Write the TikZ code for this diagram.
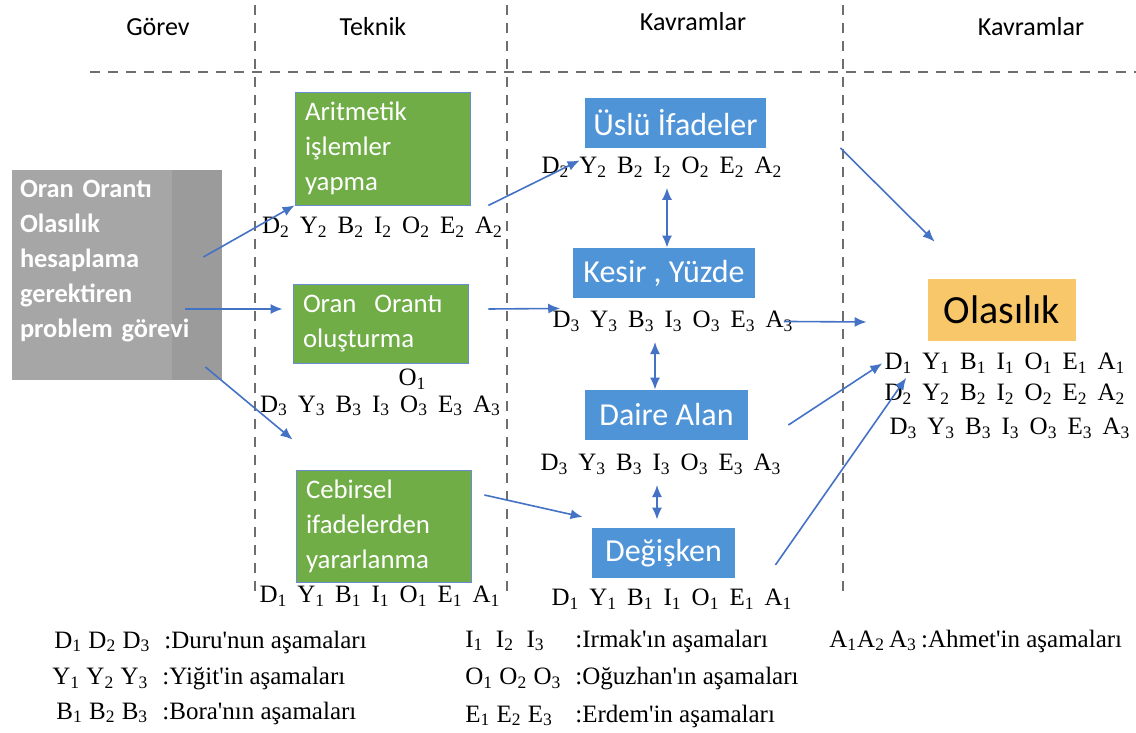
\documentclass[tikz,border=0pt]{standalone}
\usepackage{fontspec}
\setmainfont{Liberation Serif}
\newfontfamily\calibri{Carlito}
\usepackage{tikz}
\usetikzlibrary{arrows.meta, positioning, calc}
\definecolor{yesilTeknik}{HTML}{70AD47}
\definecolor{maviKavram}{HTML}{5094D8}
\definecolor{turuncuSonuc}{HTML}{F8C76A}
\definecolor{griGorev}{HTML}{A6A6A6}
\definecolor{griSerit}{HTML}{9B9B9B}
\definecolor{okMavi}{HTML}{4472C4}
\definecolor{cizgiGri}{HTML}{6E6E6E}
\newcommand{\asama}[1]{D\textsubscript{#1}\hspace{5pt}Y\textsubscript{#1}\hspace{5pt}B\textsubscript{#1}\hspace{5pt}I\textsubscript{#1}\hspace{5pt}O\textsubscript{#1}\hspace{5pt}E\textsubscript{#1}\hspace{5pt}A\textsubscript{#1}}
\newcommand{\lejant}[3]{\makebox[#1][l]{#2}#3}
\begin{document}
\begin{tikzpicture}[x=0.5pt, y=-0.5pt,
        baslik/.style={font=\calibri\fontsize{13}{15}\selectfont},
        gorevkutu/.style={fill=griGorev, text=white, align=left, text width=97pt, minimum width=105pt,
            minimum height=105pt, inner sep=0pt, font=\calibri\bfseries\fontsize{13.2}{17.5}\selectfont,
            path picture={\fill[griSerit] ($(path picture bounding box.north east)+(-50,0)$) rectangle (path picture bounding box.south east);}},
        teknik/.style={fill=yesilTeknik, draw=okMavi!80, line width=0.4pt, text=white, align=left,
            text width=77.5pt, inner xsep=5pt, inner ysep=0pt, font=\calibri\fontsize{13.4}{17.5}\selectfont},
        kavram/.style={fill=maviKavram, text=white, minimum height=25pt, inner sep=0pt,
            font=\calibri\fontsize{16}{18}\selectfont},
        sonuc/.style={fill=turuncuSonuc, minimum width=74pt, minimum height=31pt,
            font=\calibri\fontsize{20}{22}\selectfont},
        sira/.style={inner sep=1pt, font=\fontsize{12.5}{14}\selectfont},
        lejant/.style={anchor=west, inner sep=0pt, font=\fontsize{12.5}{14}\selectfont},
        ok/.style={-{Latex[length=6pt, width=5pt]}, okMavi, line width=0.8pt},
        cift/.style={{Latex[length=6pt, width=5pt]}-{Latex[length=6pt, width=5pt]}, okMavi, line width=0.8pt},
        ayrac/.style={cizgiGri, line width=0.7pt, dash pattern=on 5pt off 4pt}
    ]
        \path[use as bounding box, fill=white] (0,0) rectangle (1136,733);

        % basliklar ve ayraclar
        \node[baslik] (gorevbaslik) at (158,27) {Görev};
        \node[baslik] (teknikbaslik) at (373,27) {Teknik};
        \node[baslik] (kavrambaslik) at (693,22) {Kavramlar};
        \node[baslik] (kavrambaslik2) at (1031,27) {Kavramlar};
        \draw[ayrac] (90,72) -- (1136,72);
        \draw[ayrac] (255,5) -- (255,595);
        \draw[ayrac] (507,5) -- (507,595);
        \draw[ayrac] (843,5) -- (843,595);

        % kutular
        \node[gorevkutu] (gorev) at (117,275) {Oran Orantı\\Olasılık\\hesaplama\\gerektiren\\problem görevi\rule[-16pt]{0pt}{16pt}};
        \node[teknik, minimum height=56.5pt] (aritmetik) at (382.5,148.5) {Aritmetik\\işlemler\\yapma};
        \node[teknik, minimum height=39.5pt] (oran) at (380.5,323.5) {Oran\ \ Orantı\\oluşturma};
        \node[teknik, minimum height=56pt] (cebirsel) at (383.5,526) {Cebirsel\\ifadelerden\\yararlanma};
        \node[kavram, minimum width=90.5pt] (uslu) at (675.5,123) {Üslü İfadeler};
        \node[kavram, minimum width=91pt] (kesir) at (664,273) {Kesir , Yüzde};
        \node[kavram, minimum width=81.5pt] (daire) at (666.5,415) {Daire Alan};
        \node[kavram, minimum width=71.5pt] (degisken) at (663.5,553) {Değişken};
        \node[sonuc] (olasilik) at (1002,310) {Olasılık};

        % asama satirlari
        \node[sira, below=4.75pt of aritmetik] (aritmetiksira) {\asama{2}};
        \node[sira, below=1.75pt of oran, xshift=16pt] (oranO) {O\textsubscript{1}};
        \node[sira, below=15pt of oran] (oransira) {\asama{3}};
        \node[sira, below=0.75pt of cebirsel, xshift=-1.75pt] (cebirselsira) {\asama{1}};
        \node[sira, below=3.25pt of uslu, xshift=-6.75pt] (uslusira) {\asama{2}};
        \node[sira, below=5.25pt of kesir, xshift=4.5pt] (kesirsira) {\asama{3}};
        \node[sira, below=5.75pt of daire, xshift=-2.75pt] (dairesira) {\asama{3}};
        \node[sira, below=4.25pt of degisken, xshift=4.25pt] (degiskensira) {\asama{1}};
        \node[sira, below=4.75pt of olasilik, xshift=1.5pt] (sonuc1) {\asama{1}};
        \node[sira, below=3pt of sonuc1] (sonuc2) {\asama{2}};
        \node[sira, below=4.5pt of sonuc2, xshift=2.5pt] (sonuc3) {\asama{3}};

        % oklar
        \draw[ok] ($(gorev.east)+(-19,-18)$) -- (aritmetik.south west);
        \draw[ok] ($(gorev.east)+(-37,34)$) -- ($(oran.west)+(-10,-14.5)$);
        \draw[ok] ($(gorev.east)+(-17,92)$) -- ($(cebirsel.north west)+(-3,-30)$);
        \draw[ok] ($(aritmetik.south east)+(18,0)$) -- ($(uslu.south west)+(-5,12)$);
        \draw[ok] ($(oran.east)+(20,-14.5)$) -- ($(kesirsira.west)+(10,-13)$);
        \draw[ok] ($(kesirsira.east)+(-12,0)$) -- ($(olasilik.west)+(-61,12)$);
        \draw[ok] ($(cebirsel.east)+(13,-31)$) -- ($(degisken.west)+(-9,-36)$);
        \draw[ok] ($(uslu.east)+(74,25)$) -- ($(olasilik.north west)+(7,-37)$);
        \draw[ok] ($(daire.east)+(40,10)$) -- (sonuc1.west);
        \draw[ok] ($(degisken.east)+(40,12)$) -- ($(sonuc1.south west)+(24,2)$);
        \draw[cift] ($(uslusira.south)+(5,8)$) -- ($(kesir.north)+(3,0)$);
        \draw[cift] ($(kesirsira.south)+(-18,8)$) -- ($(daire.north)+(-11.5,0)$);
        \draw[cift] ($(dairesira.south)+(-4,8)$) -- ($(degisken.north)+(-6.5,-8)$);

        % lejant
        \node[lejant] (lejDuru) at (54,642) {\lejant{55pt}{D\textsubscript{1} D\textsubscript{2} D\textsubscript{3}}{:Duru\textquotesingle nun aşamaları}};
        \node[lejant] (lejYigit) at (52,679) {\lejant{55pt}{Y\textsubscript{1} Y\textsubscript{2} Y\textsubscript{3}}{:Yiğit\textquotesingle in aşamaları}};
        \node[lejant] (lejBora) at (56,713) {\lejant{53pt}{B\textsubscript{1} B\textsubscript{2} B\textsubscript{3}}{:Bora\textquotesingle nın aşamaları}};
        \node[lejant] (lejIrmak) at (465,641) {\lejant{55pt}{I\textsubscript{1}\ \ I\textsubscript{2}\ \ I\textsubscript{3}}{:Irmak\textquotesingle ın aşamaları}};
        \node[lejant] (lejOguzhan) at (465,679) {\lejant{55pt}{O\textsubscript{1} O\textsubscript{2} O\textsubscript{3}}{:Oğuzhan\textquotesingle ın aşamaları}};
        \node[lejant] (lejErdem) at (465,716) {\lejant{55pt}{E\textsubscript{1} E\textsubscript{2} E\textsubscript{3}}{:Erdem\textquotesingle in aşamaları}};
        \node[lejant] (lejAhmet) at (829,641) {A\textsubscript{1}A\textsubscript{2}\,A\textsubscript{3}\,:Ahmet\textquotesingle in aşamaları};
    \end{tikzpicture}
\end{document}
